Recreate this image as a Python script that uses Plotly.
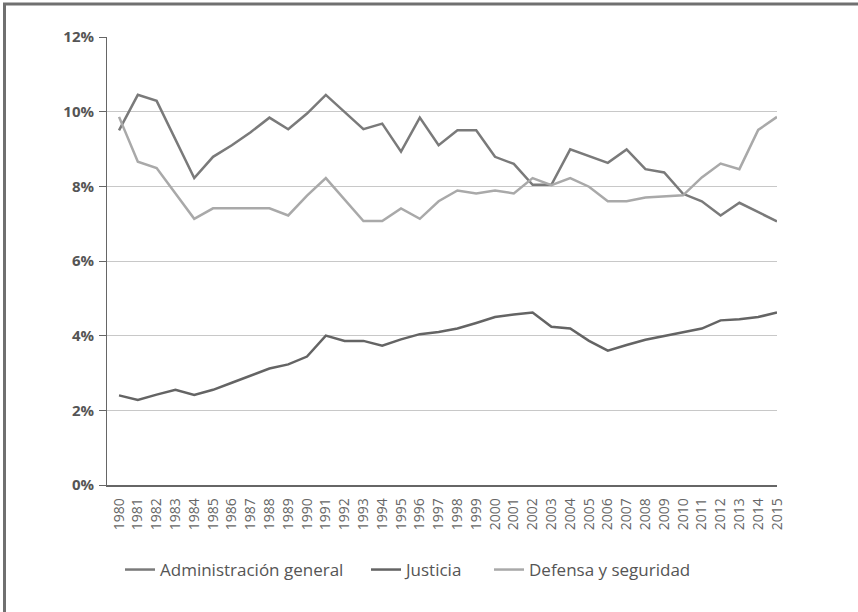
import plotly.graph_objects as go

years = list(range(1980, 2016))
year_labels = [str(y) for y in years]

admin_general = [9.50, 10.45, 10.29, 9.25, 8.22, 8.79, 9.10, 9.45, 9.84, 9.53,
                 9.95, 10.45, 9.98, 9.53, 9.68, 8.93, 9.84, 9.10, 9.50, 9.50,
                 8.79, 8.60, 8.04, 8.04, 8.99, 8.81, 8.63, 8.99, 8.46, 8.37,
                 7.80, 7.60, 7.22, 7.56, 7.31, 7.06]

justicia = [2.40, 2.28, 2.42, 2.55, 2.41, 2.55, 2.74, 2.93, 3.12, 3.23,
            3.44, 4.00, 3.86, 3.86, 3.73, 3.90, 4.04, 4.10, 4.19, 4.34,
            4.50, 4.57, 4.62, 4.24, 4.19, 3.86, 3.60, 3.75, 3.89, 3.99,
            4.10, 4.19, 4.41, 4.44, 4.50, 4.62]

defensa = [9.86, 8.66, 8.49, 7.80, 7.13, 7.41, 7.41, 7.41, 7.41, 7.22,
           7.75, 8.22, 7.65, 7.07, 7.07, 7.41, 7.13, 7.60, 7.89, 7.81,
           7.89, 7.81, 8.22, 8.03, 8.22, 7.99, 7.60, 7.60, 7.70, 7.73,
           7.76, 8.24, 8.61, 8.46, 9.51, 9.86]

series_names = ["Administración general", "Justicia", "Defensa y seguridad"]
series_values = [admin_general, justicia, defensa]
series_colors = ["#7a7a7a", "#646464", "#a9a9a9"]

y_ticks = [0, 2, 4, 6, 8, 10, 12]
y_tick_labels = ["0%", "2%", "4%", "6%", "8%", "10%", "12%"]

# plot area in pixels
L, T, R, B = 107, 37, 81, 127
PW, PH = 858 - L - R, 612 - T - B

legend_ids = ["legend", "legend2", "legend3"]
legend_text_x = [160, 406, 529]

fig = go.Figure()
for name, vals, col, lid in zip(series_names, series_values, series_colors, legend_ids):
    fig.add_trace(go.Scatter(
        x=years, y=vals, name=name, mode="lines",
        line=dict(color=col, width=2.5), legend=lid,
    ))

legend_font = dict(size=17, color="#555555", family="Open Sans, sans-serif")
legend_y = -(570 - (T + PH)) / PH
legend_layout = {}
for lid, tx in zip(legend_ids, legend_text_x):
    legend_layout[lid] = dict(
        orientation="h", x=(tx - 40 - L) / PW, xanchor="left",
        y=legend_y, yanchor="middle", font=legend_font,
        itemwidth=30, bgcolor="rgba(0,0,0,0)",
    )

fig.update_layout(
    width=858, height=612,
    margin=dict(l=L, r=R, t=T, b=B),
    paper_bgcolor="white", plot_bgcolor="white",
    font=dict(family="Open Sans, sans-serif", color="#555555"),
    showlegend=True,
    xaxis=dict(
        range=[1979.36, 2015], tickmode="array", tickvals=years, ticktext=year_labels,
        tickangle=-90, showgrid=False, zeroline=False,
        showline=True, linecolor="#666666", linewidth=1.5,
        ticks="", ticklabelstandoff=6,
        tickfont=dict(size=14, color="#666666", family="Open Sans, sans-serif"),
    ),
    yaxis=dict(
        range=[0, 12], tickmode="array", tickvals=y_ticks, ticktext=y_tick_labels,
        showgrid=True, gridcolor="#c8c8c8", gridwidth=1, zeroline=False,
        showline=True, linecolor="#666666", linewidth=1,
        ticks="outside", ticklen=7, tickcolor="#666666", tickwidth=1,
        ticklabelstandoff=2,
        tickfont=dict(size=15, color="#555555", family="Open Sans, sans-serif", weight="bold"),
    ),
    shapes=[
        dict(type="line", xref="paper", yref="paper",
             x0=(3 - L) / PW, x1=(858 - L) / PW,
             y0=1 + (T - 4) / PH, y1=1 + (T - 4) / PH,
             line=dict(color="#707070", width=3)),
        dict(type="line", xref="paper", yref="paper",
             x0=(4.5 - L) / PW, x1=(4.5 - L) / PW,
             y0=-B / PH, y1=1 + (T - 3) / PH,
             line=dict(color="#707070", width=3)),
    ],
    **legend_layout,
)

fig.write_html(
    "out.html",
    config={"displayModeBar": False},
    post_script="document.body.style.margin='0';document.body.style.padding='0';",
)
